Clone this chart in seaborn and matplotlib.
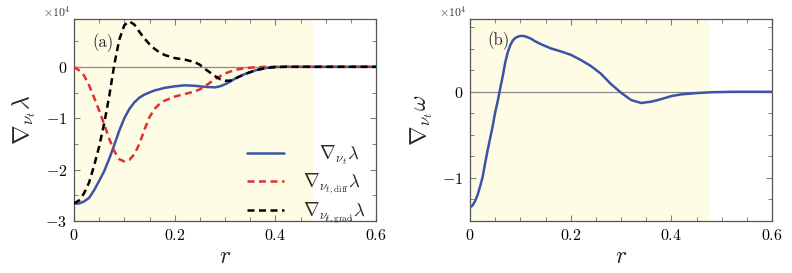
import numpy as np
import pandas as pd
import matplotlib
matplotlib.use("Agg")
import matplotlib.pyplot as plt
import seaborn as sns
from matplotlib.ticker import MultipleLocator, FuncFormatter

# ---------------- data (values in units of 1e4) ----------------
r_tot = [0.00, 0.01, 0.02, 0.03, 0.04, 0.05, 0.06, 0.07, 0.08, 0.09, 0.10, 0.11,
         0.12, 0.13, 0.14, 0.15, 0.16, 0.18, 0.20, 0.22, 0.24, 0.26, 0.28, 0.29,
         0.30, 0.31, 0.32, 0.33, 0.34, 0.36, 0.38, 0.40, 0.42, 0.50, 0.60]
lam_tot = [-2.66, -2.66, -2.62, -2.55, -2.40, -2.22, -2.03, -1.79, -1.52, -1.24, -1.00, -0.82,
           -0.69, -0.60, -0.54, -0.50, -0.46, -0.41, -0.38, -0.36, -0.37, -0.39, -0.40, -0.38,
           -0.34, -0.29, -0.23, -0.18, -0.14, -0.07, -0.025, -0.005, 0.0, 0.0, 0.0]

r_diff = [0.00, 0.01, 0.02, 0.03, 0.04, 0.05, 0.06, 0.07, 0.08, 0.09, 0.10, 0.11,
          0.12, 0.13, 0.14, 0.15, 0.16, 0.17, 0.18, 0.20, 0.22, 0.24, 0.25, 0.26,
          0.28, 0.30, 0.32, 0.34, 0.36, 0.38, 0.60]
lam_diff = [0.0, -0.07, -0.17, -0.36, -0.60, -0.85, -1.12, -1.40, -1.64, -1.80, -1.84, -1.81,
            -1.70, -1.50, -1.22, -0.98, -0.82, -0.72, -0.66, -0.58, -0.53, -0.48, -0.44, -0.38,
            -0.24, -0.13, -0.06, -0.025, -0.01, 0.0, 0.0]

r_grad = [0.00, 0.01, 0.02, 0.03, 0.04, 0.05, 0.06, 0.07, 0.08, 0.09, 0.10, 0.11,
          0.12, 0.13, 0.14, 0.15, 0.16, 0.17, 0.18, 0.20, 0.22, 0.24, 0.25, 0.26,
          0.27, 0.28, 0.29, 0.30, 0.31, 0.32, 0.34, 0.36, 0.38, 0.40, 0.42, 0.60]
lam_grad = [-2.66, -2.60, -2.46, -2.25, -1.92, -1.55, -1.10, -0.57, 0.04, 0.53, 0.81, 0.885,
            0.82, 0.68, 0.55, 0.44, 0.35, 0.28, 0.23, 0.17, 0.14, 0.09, 0.04, -0.04,
            -0.11, -0.18, -0.24, -0.27, -0.27, -0.23, -0.14, -0.07, -0.025, -0.005, 0.0, 0.0]

r_om = [0.000, 0.005, 0.010, 0.015, 0.020, 0.025, 0.030, 0.035, 0.040, 0.045, 0.050,
        0.055, 0.060, 0.065, 0.070, 0.075, 0.080, 0.085, 0.090, 0.095, 0.100, 0.105,
        0.110, 0.120, 0.130, 0.140, 0.160, 0.180, 0.200, 0.220, 0.240, 0.260, 0.280,
        0.300, 0.320, 0.340, 0.360, 0.380, 0.400, 0.420, 0.450, 0.480, 0.520, 0.600]
om = [-1.34, -1.32, -1.27, -1.20, -1.10, -0.99, -0.83, -0.68, -0.54, -0.40, -0.24,
      -0.11, 0.04, 0.18, 0.34, 0.46, 0.54, 0.595, 0.625, 0.64, 0.648, 0.648,
      0.643, 0.62, 0.585, 0.555, 0.505, 0.47, 0.43, 0.37, 0.30, 0.21, 0.09,
      -0.01, -0.095, -0.13, -0.115, -0.085, -0.05, -0.03, -0.015, -0.005, 0.0, 0.0]

labels = [r"$\quad\nabla_{\nu_t}\lambda$",
          r"$\nabla_{\nu_{t,\mathrm{diff}}}\lambda$",
          r"$\nabla_{\nu_{t,\mathrm{grad}}}\lambda$"]
shade_end = 0.475

# ---------------- style ----------------
sns.set_theme(style="ticks")
plt.rcParams.update({
    "font.family": "serif",
    "font.serif": ["cmr10", "DejaVu Serif"],
    "mathtext.fontset": "cm",
    "axes.formatter.use_mathtext": True,
    "axes.unicode_minus": True,
})

blue = "#3b54a5"
red = "#e0302c"
black = "#000000"
shade = "#fffce6"
gray_line = "#8a8a8a"
lw = 1.8

fig = plt.figure(figsize=(7.92, 2.73), dpi=100)
ax1 = fig.add_axes([74 / 792, 52 / 273, 302 / 792, 202 / 273])
ax2 = fig.add_axes([470 / 792, 52 / 273, 302 / 792, 202 / 273])

fmt = FuncFormatter(lambda v, p: "$0$" if abs(v) < 1e-9 else f"${v:g}$")

for ax in (ax1, ax2):
    ax.axvspan(0, shade_end, color=shade, lw=0, zorder=0)
    ax.axhline(0, color=gray_line, lw=0.9, zorder=1)
    ax.set_xlim(0, 0.6)
    ax.xaxis.set_major_locator(MultipleLocator(0.2))
    ax.xaxis.set_minor_locator(MultipleLocator(0.05))
    ax.xaxis.set_major_formatter(fmt)
    ax.yaxis.set_major_locator(MultipleLocator(1))
    ax.yaxis.set_major_formatter(fmt)
    ax.tick_params(which="both", direction="in", top=True, right=True,
                   color="#7f7f7f", labelsize=11.5, labelcolor="black")
    ax.tick_params(which="major", length=4.5, width=0.8, pad=5)
    ax.tick_params(which="minor", length=2.8, width=0.7)
    for s in ax.spines.values():
        s.set_color("#555555")
        s.set_linewidth(0.9)
    ax.set_xlabel(r"$r$", fontsize=17, labelpad=2)
    ax.text(-0.012, 1.0, r"$\times10^{4}$", transform=ax.transAxes,
            ha="right", va="bottom", fontsize=8.5, color="#333333")

# left panel
sns.lineplot(x=r_tot, y=lam_tot, ax=ax1, color=blue, lw=lw, label=labels[0],
             estimator=None, sort=False, zorder=3)
sns.lineplot(x=r_diff, y=lam_diff, ax=ax1, color=red, lw=lw, label=labels[1],
             estimator=None, sort=False, zorder=4, linestyle=(0, (2.8, 1.8)))
sns.lineplot(x=r_grad, y=lam_grad, ax=ax1, color=black, lw=lw, label=labels[2],
             estimator=None, sort=False, zorder=5, linestyle=(0, (2.8, 1.8)))
ax1.set_ylim(-3, 0.93)
ax1.yaxis.set_minor_locator(MultipleLocator(0.5))
ax1.set_ylabel(r"$\nabla_{\nu_t}\lambda$", fontsize=17, labelpad=5)
ax1.text(0.06, 0.885, "(a)", transform=ax1.transAxes, ha="left", va="center", fontsize=12)
ax1.legend(loc="lower right", bbox_to_anchor=(1.0, -0.075), frameon=False,
           fontsize=13.5, handlelength=2.0, labelspacing=0.22, borderaxespad=0.15,
           handletextpad=1.0)

# right panel
sns.lineplot(x=r_om, y=om, ax=ax2, color=blue, lw=lw, estimator=None, sort=False,
             zorder=3, legend=False)
ax2.set_ylim(-1.5, 0.845)
ax2.yaxis.set_minor_locator(MultipleLocator(0.25))
ax2.set_ylabel(r"$\nabla_{\nu_t}\omega$", fontsize=17, labelpad=5)
ax2.text(0.056, 0.895, "(b)", transform=ax2.transAxes, ha="left", va="center", fontsize=12)

fig.savefig("out.png", dpi=100)
